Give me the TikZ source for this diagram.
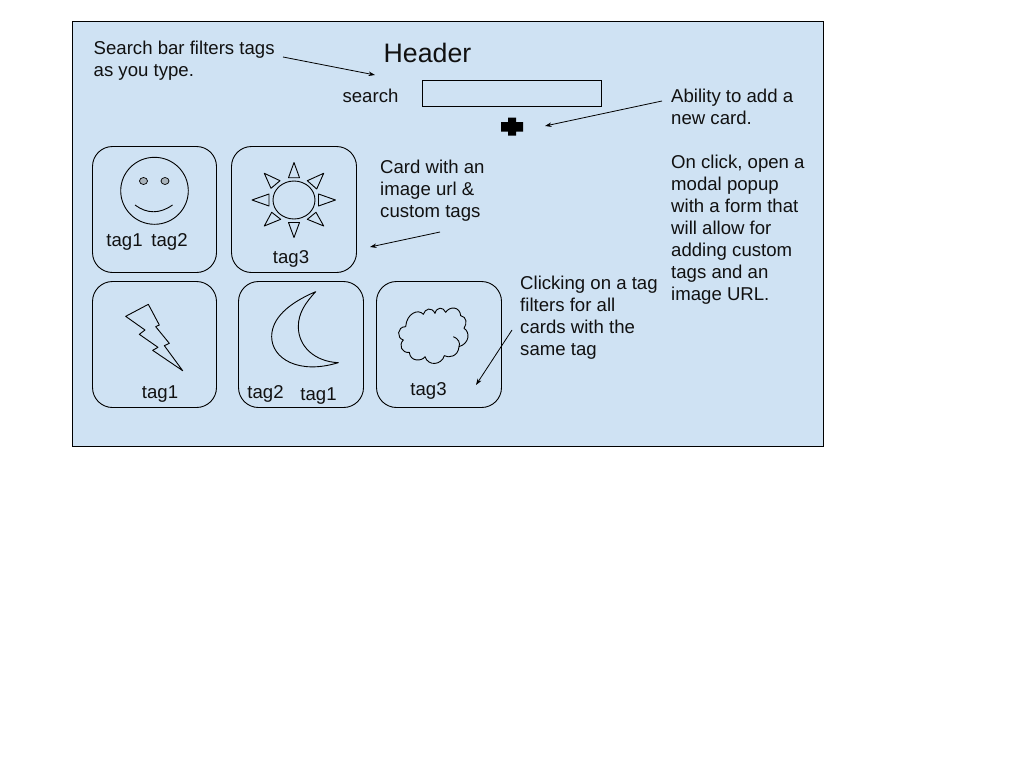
\documentclass[tikz,border=0pt]{standalone}
\usepackage{fontspec}
\setmainfont{Liberation Sans}
\usetikzlibrary{arrows.meta}
\definecolor{panelblue}{HTML}{CFE2F3}
\definecolor{eyegrey}{HTML}{A9B3BB}
\definecolor{inkgrey}{HTML}{111111}
\tikzset{
  label/.style={inner sep=0pt,anchor=north west,align=left,text=inkgrey,font=\fontsize{18.6}{22}\selectfont},
  taglabel/.style={inner sep=0pt,anchor=base,text=inkgrey,font=\fontsize{18.6}{22}\selectfont},
  card/.style={draw=black,line width=0.9pt,rounded corners=20pt},
  shapeline/.style={draw=black,line width=0.9pt,line join=round},
  pointer/.style={draw=black,line width=0.8pt,-{Stealth[length=6.5pt,width=4.5pt]}}
}
\begin{document}
\begin{tikzpicture}[x=1pt,y=-1pt]
\useasboundingbox (0,0) rectangle (1024,768);
\fill[white] (0,0) rectangle (1024,768);
\draw[fill=panelblue,draw=black,line width=0.9pt] (72.5,21.5) rectangle (823.5,446.5);
% header
\node[inner sep=0pt,anchor=base,text=inkgrey,font=\fontsize{26.7}{30}\selectfont] (header) at (427.5,63) {Header};
\node[taglabel] (searchlabel) at (370.5,102.5) {search};
\draw[draw=black,line width=0.9pt] (422.5,80.5) rectangle (601.5,106.5);
\node[label] (note1) at (93.5,40.5) {Search bar filters tags\\as you type.};
\node[label] (note2) at (671,88.5) {Ability to add a\\new card.\\[22pt]On click, open a\\modal popup\\with a form that\\will allow for\\adding custom\\tags and an\\image URL.};
\node[label] (note3) at (380,159.5) {Card with an\\image url \&\\custom tags};
\node[label] (note4) at (520,275.5) {Clicking on a tag\\filters for all\\cards with the\\same tag};
% plus
\fill[black] (508,117.5) -- (516,117.5) -- (516,122) -- (523,122) -- (523,131.5) -- (516,131.5) -- (516,135.7) -- (508,135.7) -- (508,131.5) -- (501,131.5) -- (501,122) -- (508,122) -- cycle;
% cards
\draw[card] (92.5,146.5) rectangle (216.5,272.5);
\draw[card] (231.5,146.5) rectangle (356.5,272.5);
\draw[card] (92.5,281.5) rectangle (216.5,407.5);
\draw[card] (238.5,281.5) rectangle (363.5,407.5);
\draw[card] (376.5,281.5) rectangle (501.5,407.5);
% smile
\draw[shapeline] (154.5,190.8) ellipse[x radius=33.8,y radius=33.5];
\draw[shapeline,fill=eyegrey,line width=0.7pt] (143.5,181) ellipse[x radius=4,y radius=3.5];
\draw[shapeline,fill=eyegrey,line width=0.7pt] (165,181) ellipse[x radius=4,y radius=3.5];
\draw[shapeline] (135,205) .. controls (147,214) and (160,214) .. (172.5,205);
% sun
\draw[shapeline] (294,200) ellipse[x radius=21,y radius=19];
\draw[shapeline] (294,162.5) -- (299.5,177.7) -- (288.5,177.7) -- cycle;
\draw[shapeline] (294,237.5) -- (299.5,222.5) -- (288.5,222.5) -- cycle;
\draw[shapeline] (252,200) -- (269,194) -- (269,206) -- cycle;
\draw[shapeline] (335.5,200) -- (318.5,194) -- (318.5,206) -- cycle;
\draw[shapeline] (264.3,173.3) -- (280,180.7) -- (271,188.3) -- cycle;
\draw[shapeline] (323.7,173.3) -- (307.3,180.7) -- (316.7,189) -- cycle;
\draw[shapeline] (264.3,226) -- (271.7,212.3) -- (280.7,219.3) -- cycle;
\draw[shapeline] (323.7,226) -- (316,212.3) -- (307.3,219.3) -- cycle;
% bolt and moon (coordinates read off a 3x crop)
\begin{scope}[shift={(85,275)},x=0.33333pt,y=-0.33333pt]
\draw[shapeline] (122,124) -- (190,88) -- (223,150) -- (212,155) -- (253,205) -- (238,212) -- (293,287) -- (203,226) -- (219,217) -- (163,178) -- (180,165) -- cycle;
\draw[shapeline] (692,50) .. controls (610,85) and (560,130) .. (560,185) .. controls (560,250) and (640,300) .. (760,263) .. controls (690,260) and (640,215) .. (640,155) .. controls (640,115) and (660,85) .. (692,50) -- cycle;
\end{scope}
% cloud
\begin{scope}[shift={(390,295)},x=0.33333pt,y=-0.33333pt]
\draw[shapeline] (47,95) .. controls (50,55) and (85,40) .. (100,58)
  .. controls (105,40) and (125,35) .. (135,55)
  .. controls (140,35) and (160,35) .. (167,52)
  .. controls (180,32) and (210,35) .. (212,62)
  .. controls (230,65) and (232,85) .. (222,100)
  .. controls (240,110) and (240,145) .. (207,155)
  .. controls (205,185) and (175,190) .. (163,182)
  .. controls (155,210) and (115,215) .. (105,185)
  .. controls (95,200) and (60,200) .. (58,172)
  .. controls (35,175) and (25,150) .. (40,135)
  .. controls (20,130) and (20,95) .. (47,95) -- cycle;
\draw[shapeline] (190,125) .. controls (205,130) and (212,145) .. (207,155);
\end{scope}
% tags
\node[taglabel] (t1) at (124.5,246) {tag1};
\node[taglabel] (t2) at (169.5,246) {tag2};
\node[taglabel] (t3) at (291,263) {tag3};
\node[taglabel] (t4) at (160,398) {tag1};
\node[taglabel] (t5) at (265.5,398) {tag2};
\node[taglabel] (t6) at (318.5,400) {tag1};
\node[taglabel] (t7) at (428.5,395) {tag3};
% arrows
\coordinate (a1s) at (283,57); \coordinate (a1e) at (375,75);
\coordinate (a2s) at (662,101); \coordinate (a2e) at (545,126);
\coordinate (a3s) at (440,232); \coordinate (a3e) at (370,247);
\coordinate (a4s) at (512,330); \coordinate (a4e) at (476,385);
\draw[pointer] (a1s) -- (a1e);
\draw[pointer] (a2s) -- (a2e);
\draw[pointer] (a3s) -- (a3e);
\draw[pointer] (a4s) -- (a4e);
\end{tikzpicture}
\end{document}
